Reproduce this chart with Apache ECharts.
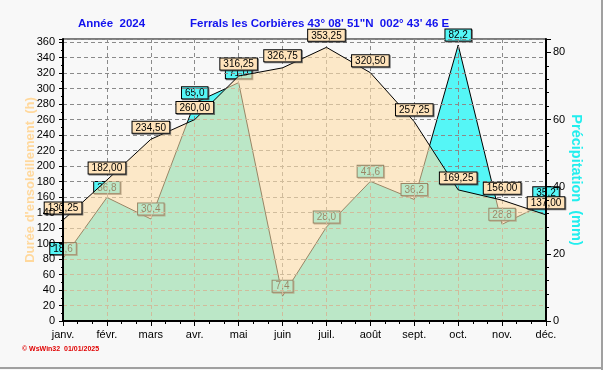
<!DOCTYPE html>
<html>
<head>
<meta charset="utf-8">
<script src="https://cdn.jsdelivr.net/npm/echarts@6/dist/echarts.min.js"></script>
<style>
html,body{margin:0;padding:0;background:#F8F8F8;}
#c{width:603px;height:370px;}
</style>
</head>
<body>
<div id="c"></div>
<script>
const months = ['janv.','févr.','mars','avr.','mai','juin','juil.','août','sept.','oct.','nov.','déc.'];
const sunshine = [130.25,182.00,234.50,260.00,316.25,326.75,353.25,320.50,257.25,169.25,156.00,137.00];
const precipitation = [18.6,36.8,30.4,65.0,71.0,7.4,28.0,41.6,36.2,82.2,28.8,35.2];
const leftTicks = {min:0, max:364, interval:20};
const rightTicks = {min:0, max:84, interval:20};
const titleYear = 'Année  2024';
const titleStation = 'Ferrals les Corbières 43° 08\' 51"N  002° 43\' 46 E';

const FONT = 'Liberation Sans';
const chart = echarts.init(document.getElementById('c'), null, {renderer:'canvas'});

function fmt(v, d){ return v.toFixed(d).replace('.', ','); }

const labelBase = {
  show:true, position:'top', color:'#000', fontSize:10, fontFamily:FONT,
  borderColor:'#000', borderWidth:1, padding:[1,3,0,3],
  shadowColor:'rgba(60,60,60,0.7)', shadowOffsetX:1, shadowOffsetY:1, shadowBlur:0
};

chart.setOption({
  backgroundColor:'#F8F8F8',
  animation:false,
  title:[
    {text:titleYear, left:78, top:18, padding:0, textStyle:{color:'#1212EE', fontSize:11.5, fontWeight:'bold', fontFamily:FONT}},
    {text:titleStation, left:190, top:18, padding:0, textStyle:{color:'#1212EE', fontSize:11.5, fontWeight:'bold', fontFamily:FONT}}
  ],
  grid:{left:63, right:57, top:39, bottom:49, show:true, borderColor:'#000', borderWidth:1, backgroundColor:'transparent'},
  xAxis:[
    {type:'category', data:months, boundaryGap:false, position:'bottom', z:10,
     axisLine:{lineStyle:{color:'#000', width:2}},
     axisTick:{show:true, length:5, lineStyle:{color:'#000'}},
     axisLabel:{color:'#000', fontSize:11, fontFamily:FONT, margin:8},
     splitLine:{show:false}},
    {type:'value', min:0, max:months.length-1, interval:1, position:'bottom', z:10,
     axisLine:{show:false}, axisTick:{show:false}, axisLabel:{show:false}, splitLine:{show:false},
     minorTick:{show:true, splitNumber:3, length:3, lineStyle:{color:'#000'}}},
    {type:'category', data:months, boundaryGap:false, position:'bottom', z:2.5,
     axisLine:{show:false}, axisTick:{show:false}, axisLabel:{show:false},
     splitLine:{show:true, lineStyle:{color:'#8a8a8a', type:[4,3], width:1}}}
  ],
  yAxis:[
    {type:'value', position:'left', min:leftTicks.min, max:leftTicks.max, interval:leftTicks.interval, z:10,
     name:'Durée d\'ensoleillement  (h)', nameLocation:'middle', nameRotate:90, nameGap:26, nameMoveOverlap:false,
     nameTextStyle:{color:'#FFD89C', fontSize:13, fontWeight:'bold', fontFamily:FONT},
     axisLine:{show:true, lineStyle:{color:'#000', width:2}},
     axisTick:{show:true, length:4, lineStyle:{color:'#000'}},
     minorTick:{show:true, splitNumber:2, length:2, lineStyle:{color:'#000'}},
     axisLabel:{color:'#000', fontSize:11, fontFamily:FONT, margin:8, formatter:v => (v % 20 === 0 ? String(v) : '')},
     splitLine:{show:false}},
    {type:'value', position:'right', min:rightTicks.min, max:rightTicks.max, interval:rightTicks.interval, z:10,
     name:'Précipitation  (mm)', nameLocation:'middle', nameRotate:-90, nameGap:22, nameMoveOverlap:false,
     nameTextStyle:{color:'#22EEEE', fontSize:14.5, fontWeight:'bold', fontFamily:FONT},
     axisLine:{show:true, lineStyle:{color:'#000', width:2}},
     axisTick:{show:true, length:5, lineStyle:{color:'#000'}},
     minorTick:{show:true, splitNumber:5, length:3, lineStyle:{color:'#000'}},
     axisLabel:{color:'#000', fontSize:11, fontFamily:FONT, margin:7, formatter:v => (v % 20 === 0 ? String(v) : '')},
     splitLine:{show:false}},
    {type:'value', position:'left', min:leftTicks.min, max:leftTicks.max, interval:leftTicks.interval, z:2.5,
     axisLine:{show:false}, axisTick:{show:false}, axisLabel:{show:false},
     splitLine:{show:true, lineStyle:{color:'#8a8a8a', type:[4,3], width:1}}}
  ],
  series:[
    {type:'line', name:'Précipitation', data:precipitation, xAxisIndex:0, yAxisIndex:1, z:2,
     symbol:'circle', symbolSize:1, itemStyle:{color:'rgba(0,0,0,0)', borderWidth:0},
     lineStyle:{color:'#000', width:1},
     areaStyle:{color:'#55F6F6', opacity:1},
     label:Object.assign({}, labelBase, {distance:4, backgroundColor:'#55F6F6', formatter:p => fmt(p.value, 1)})},
    {type:'line', name:'Ensoleillement', data:sunshine, xAxisIndex:0, yAxisIndex:0, z:3,
     symbol:'circle', symbolSize:1, itemStyle:{color:'rgba(0,0,0,0)', borderWidth:0},
     lineStyle:{color:'#000', width:1},
     areaStyle:{color:'rgba(255,221,168,0.6)', opacity:1},
     label:Object.assign({}, labelBase, {distance:6, backgroundColor:'#FFE3BA', formatter:p => fmt(p.value, 2)})}
  ],
  graphic:[
    {type:'text', left:22, top:346, style:{text:'© WsWin32  01/01/2025', fill:'#E00000', font:'bold 7px "Liberation Sans"'}},
    {type:'line', shape:{x1:0, y1:368, x2:603, y2:368}, style:{stroke:'#A0A0A0', lineWidth:2}},
    {type:'line', shape:{x1:602, y1:0, x2:602, y2:370}, style:{stroke:'#A0A0A0', lineWidth:2}}
  ]
});
</script>
</body>
</html>
